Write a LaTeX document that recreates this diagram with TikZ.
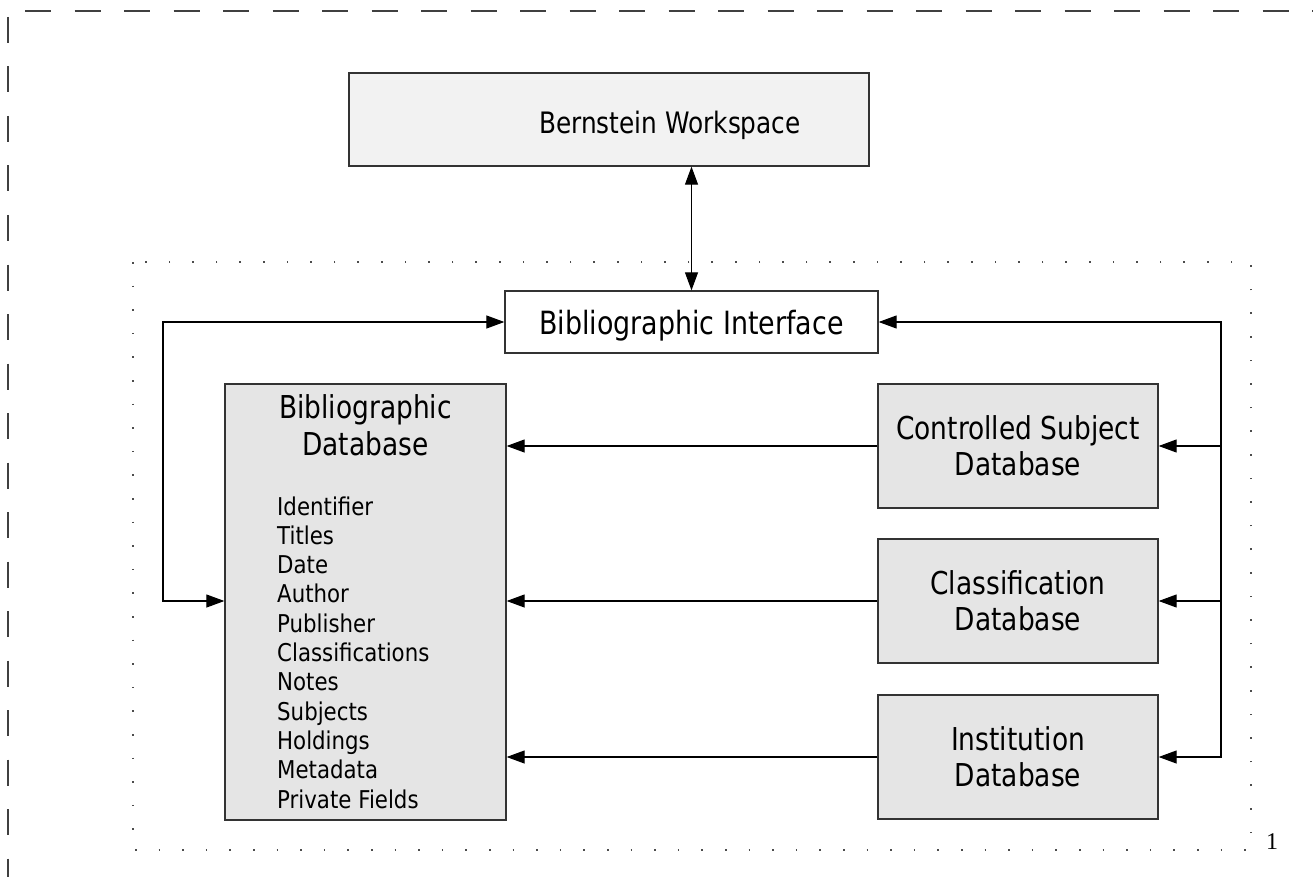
\documentclass[tikz,border=0pt]{standalone}
\usepackage{fontspec}
\setmainfont{DejaVu Sans}[FakeStretch=0.87]
\newfontfamily\titlefont{DejaVu Sans}[FakeStretch=0.84]
\newfontfamily\numfont{Liberation Serif}
\usetikzlibrary{arrows.meta}
\definecolor{wsfill}{HTML}{F2F2F2}
\definecolor{dbfill}{HTML}{E5E5E5}
\definecolor{edge}{HTML}{333333}
\begin{document}
\begin{tikzpicture}[x=1pt,y=-1pt,
  box/.style={draw=edge, line width=1.3pt, inner sep=0pt, rectangle},
  dbbox/.style={box, fill=dbfill, minimum width=280pt, minimum height=124pt,
    align=center, font=\titlefont\fontsize{31.5}{36}\selectfont},
  tip/.tip={Triangle[length=18pt,width=13pt]},
  conn/.style={line width=1.1pt, -tip},
  both/.style={line width=1.1pt, tip-tip},
  outer/.style={draw=black!75, line width=1.3pt, dash pattern=on 26pt off 23.5pt},
  frame/.style={draw=black!70, line width=1.6pt, dash pattern=on 1.6pt off 22pt},
  item/.style={anchor=base west, inner sep=0pt, font=\fontsize{24.5}{29}\selectfont}]
\useasboundingbox (0,0) rectangle (1313,877);
% outer dashed border
\draw[outer] (25,11) -- (1313,11);
\draw[outer] (8,17) -- (8,877);
% dotted frame
\draw[frame] (133,262) rectangle (1251,850);
\node[anchor=base, inner sep=0pt, font=\numfont\fontsize{24}{28}\selectfont] (pg) at (1272,849) {1};
% boxes
\node[box, fill=wsfill, minimum width=520pt, minimum height=93pt] (ws) at (609,119.5) {};
\node[anchor=base, inner sep=0pt, font=\titlefont\fontsize{29.5}{34}\selectfont] (wst) at (670,134) {Bernstein Workspace};
\node[box, fill=white, minimum width=373pt, minimum height=62pt, text depth=0pt,
  font=\titlefont\fontsize{32}{36}\selectfont] (ifc) at (691.5,322) {Bibliographic Interface};
\node[box, fill=dbfill, minimum width=281pt, minimum height=436pt] (bib) at (365.5,602) {};
\node[anchor=base, inner sep=0pt, align=center, font=\titlefont\fontsize{31.5}{37}\selectfont] (bibt) at (365.5,455) {Bibliographic\\Database};
\foreach \t [count=\i] in {Identifier,Titles,Date,Author,Publisher,Classifications,Notes,Subjects,Holdings,Metadata,Private Fields}
  \node[item] (f\i) at (277,{515+29.3*(\i-1)}) {\t};
\node[dbbox] (csd) at (1018,446) {Controlled Subject\\Database};
\node[dbbox] (cls) at (1018,601) {Classification\\Database};
\node[dbbox] (inst) at (1018,757) {Institution\\Database};
% connectors
\draw[both] (ws.south -| ifc.north) -- (ifc.north);
\coordinate (lt) at (163,322);
\coordinate (lb) at (163,601);
\draw[both, line join=miter] (ifc.west) -- (lt) -- (lb) -- (bib.west |- lb);
\coordinate (rt) at (1221,322);
\coordinate (rb) at (1221,757);
\draw[both, line join=miter] (ifc.east) -- (rt) -- (rb) -- (inst.east);
\draw[conn] (rt |- csd.east) -- (csd.east);
\draw[conn] (rt |- cls.east) -- (cls.east);
\draw[conn] (csd.west) -- (bib.east |- csd.west);
\draw[conn] (cls.west) -- (bib.east |- cls.west);
\draw[conn] (inst.west) -- (bib.east |- inst.west);
\end{tikzpicture}
\end{document}
